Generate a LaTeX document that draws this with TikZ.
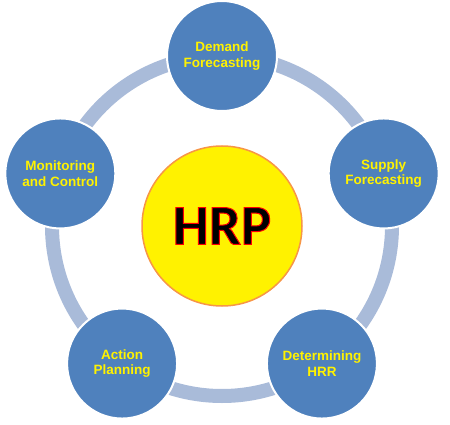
\documentclass[tikz,border=0pt]{standalone}
\usepackage{fontspec}
\setmainfont{Liberation Sans}
\newfontfamily\hrpfont{Carlito}
\usepackage{xcolor}
\definecolor{stepblue}{HTML}{4F81BD}
\definecolor{ringblue}{HTML}{A9BBD9}
\definecolor{hrpedge}{HTML}{F79646}
\usepackage{tikz}
% black letters with a red outline
\newcommand{\redoutline}[1]{\special{pdf:literal direct 2 Tr 1 w 1 0 0 RG}#1\special{pdf:literal direct 0 Tr 0 0 0 RG}}

\begin{document}
\begin{tikzpicture}[x=1pt, y=1pt,
    stepcirc/.style={circle, fill=stepblue, draw=white, line width=2pt,
        minimum size=110pt, inner sep=0pt, align=center, text=yellow,
        font=\fontsize{13.5}{15.5}\selectfont\bfseries}]
        \useasboundingbox (0,0) rectangle (450,424);
        \coordinate (c) at (222,198);

        % ring behind the steps
        \draw[ringblue, line width=14pt] (c) circle (170);

        \node[circle, fill=yellow, draw=hrpedge, line width=1.5pt, minimum size=160pt,
            inner sep=0pt, font=\hrpfont\fontsize{57}{60}\selectfont\bfseries] (hrp) at (c)
            {\redoutline{HRP}};

        \node[stepcirc] (demand) at ([shift={(90:170)}]c) {Demand\\Forecasting};
        \node[stepcirc] (supply) at ([shift={(18:170)}]c) {Supply\\Forecasting};
        \node[stepcirc] (hrr) at ([shift={(-54:170)}]c) {Determining\\HRR};
        \node[stepcirc] (action) at ([shift={(-126:170)}]c) {Action\\Planning};
        \node[stepcirc] (monitor) at ([shift={(162:170)}]c) {Monitoring\\and Control};
    \end{tikzpicture}
\end{document}
